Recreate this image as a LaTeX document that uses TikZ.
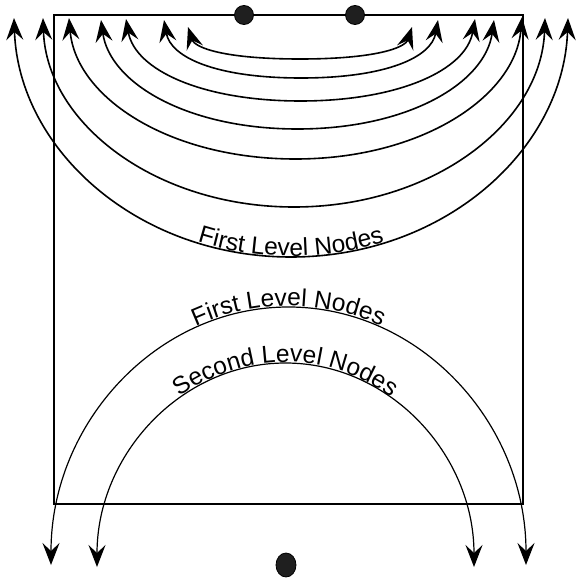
\documentclass[tikz,border=0pt]{standalone}
\usepackage{fontspec}
\setmainfont{Liberation Sans}
\usetikzlibrary{arrows.meta,decorations.text,shapes.geometric}
\newcommand\lblfont{\fontsize{24.5}{24.5}\selectfont}
\begin{document}
\begin{tikzpicture}[x=1pt,y=1pt,
  >={Stealth[length=22pt,width=17pt,inset=8pt]},
  toparc/.style={line width=1.6pt,<->},
  dome/.style={line width=1.2pt,<->},
  frame/.style={line width=2pt},
  dot/.style={circle,draw=black,fill=black!88,line width=0.8pt,minimum size=19pt,inner sep=0pt},
  bdot/.style={ellipse,draw=black,fill=black!88,line width=0.8pt,minimum width=20pt,minimum height=24pt,inner sep=0pt},
  lbl/.style={decorate,decoration={text along path,text align=center,raise=1pt,text={|\lblfont|#1}}}
]
\useasboundingbox (0,0) rectangle (577,-578);
% frame
\draw[frame] (53.5,-15.5) rectangle (523,-503.5);
% top arc coordinates
\coordinate (L1) at (188,-27);  \coordinate (B1) at (300,-59);    \coordinate (R1) at (412,-27);
\coordinate (L2) at (164,-20);  \coordinate (B2) at (301,-78);    \coordinate (R2) at (438,-20);
\coordinate (L3) at (126,-19);  \coordinate (B3) at (300.5,-101); \coordinate (R3) at (475,-19);
\coordinate (L4) at (101,-20);  \coordinate (B4) at (297.5,-129); \coordinate (R4) at (494,-20);
\coordinate (L5) at (69,-18);   \coordinate (B5) at (295.5,-159); \coordinate (R5) at (522,-17);
\coordinate (L6) at (43,-18);   \coordinate (B6) at (294,-207);   \coordinate (R6) at (545,-18);
\coordinate (L7) at (14,-18);   \coordinate (B7) at (291,-257);   \coordinate (R7) at (568,-18);
% top arcs
\draw[toparc] (L1) .. controls +(-72:22) and +(-75,0) .. (B1) .. controls +(75,0) and +(252:22) .. (R1);
\draw[toparc] (L2) .. controls +(-80:38) and +(-85,0) .. (B2) .. controls +(85,0) and +(260:38) .. (R2);
\draw[toparc] (L3) .. controls +(-80:52) and +(-98,0) .. (B3) .. controls +(98,0) and +(260:52) .. (R3);
\draw[toparc] (L4) .. controls +(-82:64) and +(-110,0) .. (B4) .. controls +(110,0) and +(262:64) .. (R4);
\draw[toparc] (L5) .. controls +(-85:80) and +(-126,0) .. (B5) .. controls +(126,0) and +(265:80) .. (R5);
\draw[toparc] (L6) .. controls +(-88:105) and +(-139,0) .. (B6) .. controls +(139,0) and +(268:105) .. (R6);
\draw[toparc] (L7) .. controls +(-88:132) and +(-153,0) .. (B7) .. controls +(153,0) and +(268:132) .. (R7);
\path[lbl={First Level Nodes}] (L7) .. controls +(-88:132) and +(-153,0) .. (B7) .. controls +(153,0) and +(268:132) .. (R7);
% domes
\coordinate (DL1) at (51,-565);  \coordinate (DT1) at (288.5,-307); \coordinate (DR1) at (526,-565);
\coordinate (DL2) at (97,-567);  \coordinate (DT2) at (285.5,-363); \coordinate (DR2) at (474,-567);
\draw[dome] (DL1) .. controls +(0,142.5) and +(-131.2,0) .. (DT1) .. controls +(131.2,0) and +(0,142.5) .. (DR1);
\draw[dome] (DL2) .. controls +(0,112.7) and +(-104.1,0) .. (DT2) .. controls +(104.1,0) and +(0,112.7) .. (DR2);
\path[lbl={First Level Nodes}] (DL1) .. controls +(0,142.5) and +(-131.2,0) .. (DT1) .. controls +(131.2,0) and +(0,142.5) .. (DR1);
\path[lbl={Second Level Nodes}] (DL2) .. controls +(0,112.7) and +(-104.1,0) .. (DT2) .. controls +(104.1,0) and +(0,112.7) .. (DR2);
% dots
\node[dot] (d1) at (244,-15) {};
\node[dot] (d2) at (355,-15) {};
\node[bdot] (d3) at (286,-565) {};
\end{tikzpicture}
\end{document}
